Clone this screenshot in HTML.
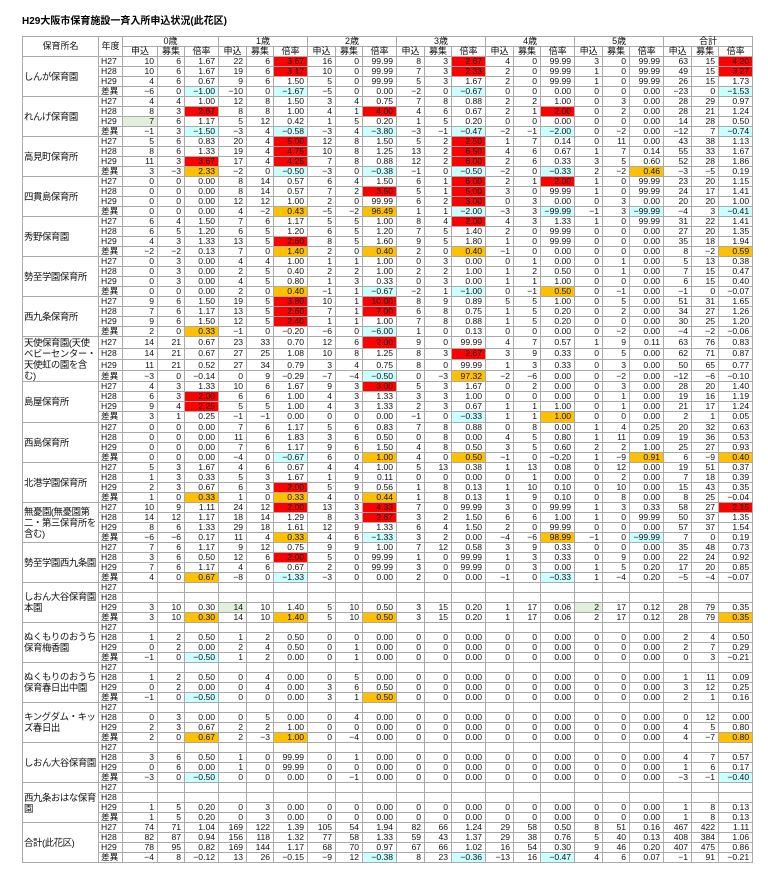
<!DOCTYPE html>
<html><head><meta charset="utf-8"><style>
body{margin:0;background:#fff;width:768px;height:888px;overflow:hidden;font-family:"Liberation Sans","Noto Sans CJK JP",sans-serif;}
.t{position:absolute;left:22px;top:12px;font-size:10px;font-weight:bold;}
table{position:absolute;left:22px;top:36px;border-collapse:collapse;table-layout:fixed;width:730px;border:1px solid #333;}
td{border:1px solid #aaa;height:9.02px;padding:0 3px 0 0;font-size:8.6px;line-height:9px;text-align:right;white-space:nowrap;overflow:hidden;color:#111;}
th{border:1px solid #aaa;height:9px;font-size:9px;font-weight:normal;line-height:9px;padding:0;color:#111;}
td.n{text-align:left;white-space:normal;font-size:9.4px;line-height:11px;padding:0 0 0 1px;vertical-align:middle;letter-spacing:-0.4px;}
td.y{text-align:left;padding-left:2px;}
tr.s td{border-top:1px solid #555;}
.r{background:#ff0000;}.o{background:#ffc000;}.c{background:#ccffff;}.g{background:#e2efda;}
</style></head><body>
<div class="t">H29大阪市保育施設一斉入所申込状況(此花区)</div>
<table>
<colgroup><col style="width:76px"><col style="width:24px"><col style="width:35px"><col style="width:27px"><col style="width:34px">
<col style="width:28px"><col style="width:27px"><col style="width:34px"><col style="width:28px"><col style="width:27px"><col style="width:34px">
<col style="width:28px"><col style="width:27px"><col style="width:34px"><col style="width:28px"><col style="width:27px"><col style="width:34px">
<col style="width:28px"><col style="width:27px"><col style="width:34px"><col style="width:28px"><col style="width:27px"><col style="width:34px"></colgroup>
<tr><th rowspan="2">保育所名</th><th rowspan="2">年度</th><th colspan="3">0歳</th><th colspan="3">1歳</th><th colspan="3">2歳</th><th colspan="3">3歳</th><th colspan="3">4歳</th><th colspan="3">5歳</th><th colspan="3">合計</th></tr>
<tr><th>申込</th><th>募集</th><th>倍率</th><th>申込</th><th>募集</th><th>倍率</th><th>申込</th><th>募集</th><th>倍率</th><th>申込</th><th>募集</th><th>倍率</th><th>申込</th><th>募集</th><th>倍率</th><th>申込</th><th>募集</th><th>倍率</th><th>申込</th><th>募集</th><th>倍率</th></tr>

<tr class="s"><td class="n" rowspan="4">しんが保育園</td><td class="y">H27</td><td>10</td><td>6</td><td>1.67</td><td>22</td><td>6</td><td class="r">3.67</td><td>16</td><td>0</td><td>99.99</td><td>8</td><td>3</td><td class="r">2.67</td><td>4</td><td>0</td><td>99.99</td><td>3</td><td>0</td><td>99.99</td><td>63</td><td>15</td><td class="r">4.20</td></tr>
<tr><td class="y">H28</td><td>10</td><td>6</td><td>1.67</td><td>19</td><td>6</td><td class="r">3.17</td><td>10</td><td>0</td><td>99.99</td><td>7</td><td>3</td><td class="r">2.33</td><td>2</td><td>0</td><td>99.99</td><td>1</td><td>0</td><td>99.99</td><td>49</td><td>15</td><td class="r">3.27</td></tr>
<tr><td class="y">H29</td><td>4</td><td>6</td><td>0.67</td><td>9</td><td>6</td><td>1.50</td><td>5</td><td>0</td><td>99.99</td><td>5</td><td>3</td><td>1.67</td><td>2</td><td>0</td><td>99.99</td><td>1</td><td>0</td><td>99.99</td><td>26</td><td>15</td><td>1.73</td></tr>
<tr><td class="y">差異</td><td>−6</td><td>0</td><td class="c">−1.00</td><td>−10</td><td>0</td><td class="c">−1.67</td><td>−5</td><td>0</td><td>0.00</td><td>−2</td><td>0</td><td class="c">−0.67</td><td>0</td><td>0</td><td>0.00</td><td>0</td><td>0</td><td>0.00</td><td>−23</td><td>0</td><td class="c">−1.53</td></tr>

<tr class="s"><td class="n" rowspan="4">れんげ保育園</td><td class="y">H27</td><td>4</td><td>4</td><td>1.00</td><td>12</td><td>8</td><td>1.50</td><td>3</td><td>4</td><td>0.75</td><td>7</td><td>8</td><td>0.88</td><td>2</td><td>2</td><td>1.00</td><td>0</td><td>3</td><td>0.00</td><td>28</td><td>29</td><td>0.97</td></tr>
<tr><td class="y">H28</td><td>8</td><td>3</td><td class="r">2.67</td><td>8</td><td>8</td><td>1.00</td><td>4</td><td>1</td><td class="r">4.00</td><td>4</td><td>6</td><td>0.67</td><td>2</td><td>1</td><td class="r">2.00</td><td>0</td><td>2</td><td>0.00</td><td>28</td><td>21</td><td>1.24</td></tr>
<tr><td class="y">H29</td><td class="g">7</td><td>6</td><td>1.17</td><td>5</td><td>12</td><td>0.42</td><td>1</td><td>5</td><td>0.20</td><td>1</td><td>5</td><td>0.20</td><td>0</td><td>0</td><td>0.00</td><td>0</td><td>0</td><td>0.00</td><td>14</td><td>28</td><td>0.50</td></tr>
<tr><td class="y">差異</td><td>−1</td><td>3</td><td class="c">−1.50</td><td>−3</td><td>4</td><td class="c">−0.58</td><td>−3</td><td>4</td><td class="c">−3.80</td><td>−3</td><td>−1</td><td class="c">−0.47</td><td>−2</td><td>−1</td><td class="c">−2.00</td><td>0</td><td>−2</td><td>0.00</td><td>−12</td><td>7</td><td class="c">−0.74</td></tr>

<tr class="s"><td class="n" rowspan="4">高見町保育所</td><td class="y">H27</td><td>5</td><td>6</td><td>0.83</td><td>20</td><td>4</td><td class="r">5.00</td><td>12</td><td>8</td><td>1.50</td><td>5</td><td>2</td><td class="r">2.50</td><td>1</td><td>7</td><td>0.14</td><td>0</td><td>11</td><td>0.00</td><td>43</td><td>38</td><td>1.13</td></tr>
<tr><td class="y">H28</td><td>8</td><td>6</td><td>1.33</td><td>19</td><td>4</td><td class="r">4.75</td><td>10</td><td>8</td><td>1.25</td><td>13</td><td>2</td><td class="r">6.50</td><td>4</td><td>6</td><td>0.67</td><td>1</td><td>7</td><td>0.14</td><td>55</td><td>33</td><td>1.67</td></tr>
<tr><td class="y">H29</td><td>11</td><td>3</td><td class="r">3.67</td><td>17</td><td>4</td><td class="r">4.25</td><td>7</td><td>8</td><td>0.88</td><td>12</td><td>2</td><td class="r">6.00</td><td>2</td><td>6</td><td>0.33</td><td>3</td><td>5</td><td>0.60</td><td>52</td><td>28</td><td>1.86</td></tr>
<tr><td class="y">差異</td><td>3</td><td>−3</td><td class="o">2.33</td><td>−2</td><td>0</td><td class="c">−0.50</td><td>−3</td><td>0</td><td class="c">−0.38</td><td>−1</td><td>0</td><td class="c">−0.50</td><td>−2</td><td>0</td><td class="c">−0.33</td><td>2</td><td>−2</td><td class="o">0.46</td><td>−3</td><td>−5</td><td>0.19</td></tr>

<tr class="s"><td class="n" rowspan="4">四貫島保育所</td><td class="y">H27</td><td>0</td><td>0</td><td>0.00</td><td>8</td><td>14</td><td>0.57</td><td>6</td><td>4</td><td>1.50</td><td>6</td><td>1</td><td class="r">6.00</td><td>2</td><td>1</td><td class="r">2.00</td><td>1</td><td>0</td><td>99.99</td><td>23</td><td>20</td><td>1.15</td></tr>
<tr><td class="y">H28</td><td>0</td><td>0</td><td>0.00</td><td>8</td><td>14</td><td>0.57</td><td>7</td><td>2</td><td class="r">3.50</td><td>5</td><td>1</td><td class="r">5.00</td><td>3</td><td>0</td><td>99.99</td><td>1</td><td>0</td><td>99.99</td><td>24</td><td>17</td><td>1.41</td></tr>
<tr><td class="y">H29</td><td>0</td><td>0</td><td>0.00</td><td>12</td><td>12</td><td>1.00</td><td>2</td><td>0</td><td>99.99</td><td>6</td><td>2</td><td class="r">3.00</td><td>0</td><td>3</td><td>0.00</td><td>0</td><td>3</td><td>0.00</td><td>20</td><td>20</td><td>1.00</td></tr>
<tr><td class="y">差異</td><td>0</td><td>0</td><td>0.00</td><td>4</td><td>−2</td><td class="o">0.43</td><td>−5</td><td>−2</td><td class="o">96.49</td><td>1</td><td>1</td><td class="c">−2.00</td><td>−3</td><td>3</td><td class="c">−99.99</td><td>−1</td><td>3</td><td class="c">−99.99</td><td>−4</td><td>3</td><td class="c">−0.41</td></tr>

<tr class="s"><td class="n" rowspan="4">秀野保育園</td><td class="y">H27</td><td>6</td><td>4</td><td>1.50</td><td>7</td><td>6</td><td>1.17</td><td>5</td><td>5</td><td>1.00</td><td>8</td><td>4</td><td class="r">2.00</td><td>4</td><td>3</td><td>1.33</td><td>1</td><td>0</td><td>99.99</td><td>31</td><td>22</td><td>1.41</td></tr>
<tr><td class="y">H28</td><td>6</td><td>5</td><td>1.20</td><td>6</td><td>5</td><td>1.20</td><td>6</td><td>5</td><td>1.20</td><td>7</td><td>5</td><td>1.40</td><td>2</td><td>0</td><td>99.99</td><td>0</td><td>0</td><td>0.00</td><td>27</td><td>20</td><td>1.35</td></tr>
<tr><td class="y">H29</td><td>4</td><td>3</td><td>1.33</td><td>13</td><td>5</td><td class="r">2.60</td><td>8</td><td>5</td><td>1.60</td><td>9</td><td>5</td><td>1.80</td><td>1</td><td>0</td><td>99.99</td><td>0</td><td>0</td><td>0.00</td><td>35</td><td>18</td><td>1.94</td></tr>
<tr><td class="y">差異</td><td>−2</td><td>−2</td><td>0.13</td><td>7</td><td>0</td><td class="o">1.40</td><td>2</td><td>0</td><td class="o">0.40</td><td>2</td><td>0</td><td class="o">0.40</td><td>−1</td><td>0</td><td>0.00</td><td>0</td><td>0</td><td>0.00</td><td>8</td><td>−2</td><td class="o">0.59</td></tr>

<tr class="s"><td class="n" rowspan="4">勢至学園保育所</td><td class="y">H27</td><td>0</td><td>3</td><td>0.00</td><td>4</td><td>4</td><td>1.00</td><td>1</td><td>1</td><td>1.00</td><td>0</td><td>3</td><td>0.00</td><td>0</td><td>1</td><td>0.00</td><td>0</td><td>1</td><td>0.00</td><td>5</td><td>13</td><td>0.38</td></tr>
<tr><td class="y">H28</td><td>0</td><td>3</td><td>0.00</td><td>2</td><td>5</td><td>0.40</td><td>2</td><td>2</td><td>1.00</td><td>2</td><td>2</td><td>1.00</td><td>1</td><td>2</td><td>0.50</td><td>0</td><td>1</td><td>0.00</td><td>7</td><td>15</td><td>0.47</td></tr>
<tr><td class="y">H29</td><td>0</td><td>3</td><td>0.00</td><td>4</td><td>5</td><td>0.80</td><td>1</td><td>3</td><td>0.33</td><td>0</td><td>3</td><td>0.00</td><td>1</td><td>1</td><td>1.00</td><td>0</td><td>0</td><td>0.00</td><td>6</td><td>15</td><td>0.40</td></tr>
<tr><td class="y">差異</td><td>0</td><td>0</td><td>0.00</td><td>2</td><td>0</td><td class="o">0.40</td><td>−1</td><td>1</td><td class="c">−0.67</td><td>−2</td><td>1</td><td class="c">−1.00</td><td>0</td><td>−1</td><td class="o">0.50</td><td>0</td><td>−1</td><td>0.00</td><td>−1</td><td>0</td><td>−0.07</td></tr>

<tr class="s"><td class="n" rowspan="4">西九条保育所</td><td class="y">H27</td><td>9</td><td>6</td><td>1.50</td><td>19</td><td>5</td><td class="r">3.80</td><td>10</td><td>1</td><td class="r">10.00</td><td>8</td><td>9</td><td>0.89</td><td>5</td><td>5</td><td>1.00</td><td>0</td><td>5</td><td>0.00</td><td>51</td><td>31</td><td>1.65</td></tr>
<tr><td class="y">H28</td><td>7</td><td>6</td><td>1.17</td><td>13</td><td>5</td><td class="r">2.60</td><td>7</td><td>1</td><td class="r">7.00</td><td>6</td><td>8</td><td>0.75</td><td>1</td><td>5</td><td>0.20</td><td>0</td><td>2</td><td>0.00</td><td>34</td><td>27</td><td>1.26</td></tr>
<tr><td class="y">H29</td><td>9</td><td>6</td><td>1.50</td><td>12</td><td>5</td><td class="r">2.40</td><td>1</td><td>1</td><td>1.00</td><td>7</td><td>8</td><td>0.88</td><td>1</td><td>5</td><td>0.20</td><td>0</td><td>0</td><td>0.00</td><td>30</td><td>25</td><td>1.20</td></tr>
<tr><td class="y">差異</td><td>2</td><td>0</td><td class="o">0.33</td><td>−1</td><td>0</td><td>−0.20</td><td>−6</td><td>0</td><td class="c">−6.00</td><td>1</td><td>0</td><td>0.13</td><td>0</td><td>0</td><td>0.00</td><td>0</td><td>−2</td><td>0.00</td><td>−4</td><td>−2</td><td>−0.06</td></tr>

<tr class="s"><td class="n" rowspan="4">天使保育園(天使ベビーセンター・天使虹の園を含む)</td><td class="y">H27</td><td>14</td><td>21</td><td>0.67</td><td>23</td><td>33</td><td>0.70</td><td>12</td><td>6</td><td class="r">2.00</td><td>9</td><td>0</td><td>99.99</td><td>4</td><td>7</td><td>0.57</td><td>1</td><td>9</td><td>0.11</td><td>63</td><td>76</td><td>0.83</td></tr>
<tr><td class="y">H28</td><td>14</td><td>21</td><td>0.67</td><td>27</td><td>25</td><td>1.08</td><td>10</td><td>8</td><td>1.25</td><td>8</td><td>3</td><td class="r">2.67</td><td>3</td><td>9</td><td>0.33</td><td>0</td><td>5</td><td>0.00</td><td>62</td><td>71</td><td>0.87</td></tr>
<tr><td class="y">H29</td><td>11</td><td>21</td><td>0.52</td><td>27</td><td>34</td><td>0.79</td><td>3</td><td>4</td><td>0.75</td><td>8</td><td>0</td><td>99.99</td><td>1</td><td>3</td><td>0.33</td><td>0</td><td>3</td><td>0.00</td><td>50</td><td>65</td><td>0.77</td></tr>
<tr><td class="y">差異</td><td>−3</td><td>0</td><td>−0.14</td><td>0</td><td>9</td><td>−0.29</td><td>−7</td><td>−4</td><td class="c">−0.50</td><td>0</td><td>−3</td><td class="o">97.32</td><td>−2</td><td>−6</td><td>0.00</td><td>0</td><td>−2</td><td>0.00</td><td>−12</td><td>−6</td><td>−0.10</td></tr>

<tr class="s"><td class="n" rowspan="4">島屋保育所</td><td class="y">H27</td><td>4</td><td>3</td><td>1.33</td><td>10</td><td>6</td><td>1.67</td><td>9</td><td>3</td><td class="r">3.00</td><td>5</td><td>3</td><td>1.67</td><td>0</td><td>2</td><td>0.00</td><td>0</td><td>3</td><td>0.00</td><td>28</td><td>20</td><td>1.40</td></tr>
<tr><td class="y">H28</td><td>6</td><td>3</td><td class="r">2.00</td><td>6</td><td>6</td><td>1.00</td><td>4</td><td>3</td><td>1.33</td><td>3</td><td>3</td><td>1.00</td><td>0</td><td>0</td><td>0.00</td><td>0</td><td>1</td><td>0.00</td><td>19</td><td>16</td><td>1.19</td></tr>
<tr><td class="y">H29</td><td>9</td><td>4</td><td class="r">2.25</td><td>5</td><td>5</td><td>1.00</td><td>4</td><td>3</td><td>1.33</td><td>2</td><td>3</td><td>0.67</td><td>1</td><td>1</td><td>1.00</td><td>0</td><td>1</td><td>0.00</td><td>21</td><td>17</td><td>1.24</td></tr>
<tr><td class="y">差異</td><td>3</td><td>1</td><td>0.25</td><td>−1</td><td>−1</td><td>0.00</td><td>0</td><td>0</td><td>0.00</td><td>−1</td><td>0</td><td class="c">−0.33</td><td>1</td><td>1</td><td class="o">1.00</td><td>0</td><td>0</td><td>0.00</td><td>2</td><td>1</td><td>0.05</td></tr>

<tr class="s"><td class="n" rowspan="4">西島保育所</td><td class="y">H27</td><td>0</td><td>0</td><td>0.00</td><td>7</td><td>6</td><td>1.17</td><td>5</td><td>6</td><td>0.83</td><td>7</td><td>8</td><td>0.88</td><td>0</td><td>8</td><td>0.00</td><td>1</td><td>4</td><td>0.25</td><td>20</td><td>32</td><td>0.63</td></tr>
<tr><td class="y">H28</td><td>0</td><td>0</td><td>0.00</td><td>11</td><td>6</td><td>1.83</td><td>3</td><td>6</td><td>0.50</td><td>0</td><td>8</td><td>0.00</td><td>4</td><td>5</td><td>0.80</td><td>1</td><td>11</td><td>0.09</td><td>19</td><td>36</td><td>0.53</td></tr>
<tr><td class="y">H29</td><td>0</td><td>0</td><td>0.00</td><td>7</td><td>6</td><td>1.17</td><td>9</td><td>6</td><td>1.50</td><td>4</td><td>8</td><td>0.50</td><td>3</td><td>5</td><td>0.60</td><td>2</td><td>2</td><td>1.00</td><td>25</td><td>27</td><td>0.93</td></tr>
<tr><td class="y">差異</td><td>0</td><td>0</td><td>0.00</td><td>−4</td><td>0</td><td class="c">−0.67</td><td>6</td><td>0</td><td class="o">1.00</td><td>4</td><td>0</td><td class="o">0.50</td><td>−1</td><td>0</td><td>−0.20</td><td>1</td><td>−9</td><td class="o">0.91</td><td>6</td><td>−9</td><td class="o">0.40</td></tr>

<tr class="s"><td class="n" rowspan="4">北港学園保育所</td><td class="y">H27</td><td>5</td><td>3</td><td>1.67</td><td>4</td><td>6</td><td>0.67</td><td>4</td><td>4</td><td>1.00</td><td>5</td><td>13</td><td>0.38</td><td>1</td><td>13</td><td>0.08</td><td>0</td><td>12</td><td>0.00</td><td>19</td><td>51</td><td>0.37</td></tr>
<tr><td class="y">H28</td><td>1</td><td>3</td><td>0.33</td><td>5</td><td>3</td><td>1.67</td><td>1</td><td>9</td><td>0.11</td><td>0</td><td>0</td><td>0.00</td><td>0</td><td>1</td><td>0.00</td><td>0</td><td>2</td><td>0.00</td><td>7</td><td>18</td><td>0.39</td></tr>
<tr><td class="y">H29</td><td>2</td><td>3</td><td>0.67</td><td>6</td><td>3</td><td class="r">2.00</td><td>5</td><td>9</td><td>0.56</td><td>1</td><td>8</td><td>0.13</td><td>1</td><td>10</td><td>0.10</td><td>0</td><td>10</td><td>0.00</td><td>15</td><td>43</td><td>0.35</td></tr>
<tr><td class="y">差異</td><td>1</td><td>0</td><td class="o">0.33</td><td>1</td><td>0</td><td class="o">0.33</td><td>4</td><td>0</td><td class="o">0.44</td><td>1</td><td>8</td><td>0.13</td><td>1</td><td>9</td><td>0.10</td><td>0</td><td>8</td><td>0.00</td><td>8</td><td>25</td><td>−0.04</td></tr>

<tr class="s"><td class="n" rowspan="4">無憂園(無憂園第二・第三保育所を含む)</td><td class="y">H27</td><td>10</td><td>9</td><td>1.11</td><td>24</td><td>12</td><td class="r">2.00</td><td>13</td><td>3</td><td class="r">4.33</td><td>7</td><td>0</td><td>99.99</td><td>3</td><td>0</td><td>99.99</td><td>1</td><td>3</td><td>0.33</td><td>58</td><td>27</td><td class="r">2.15</td></tr>
<tr><td class="y">H28</td><td>14</td><td>12</td><td>1.17</td><td>18</td><td>14</td><td>1.29</td><td>8</td><td>3</td><td class="r">2.67</td><td>3</td><td>2</td><td>1.50</td><td>6</td><td>6</td><td>1.00</td><td>1</td><td>0</td><td>99.99</td><td>50</td><td>37</td><td>1.35</td></tr>
<tr><td class="y">H29</td><td>8</td><td>6</td><td>1.33</td><td>29</td><td>18</td><td>1.61</td><td>12</td><td>9</td><td>1.33</td><td>6</td><td>4</td><td>1.50</td><td>2</td><td>0</td><td>99.99</td><td>0</td><td>0</td><td>0.00</td><td>57</td><td>37</td><td>1.54</td></tr>
<tr><td class="y">差異</td><td>−6</td><td>−6</td><td>0.17</td><td>11</td><td>4</td><td class="o">0.33</td><td>4</td><td>6</td><td class="c">−1.33</td><td>3</td><td>2</td><td>0.00</td><td>−4</td><td>−6</td><td class="o">98.99</td><td>−1</td><td>0</td><td class="c">−99.99</td><td>7</td><td>0</td><td>0.19</td></tr>

<tr class="s"><td class="n" rowspan="4">勢至学園西九条園</td><td class="y">H27</td><td>7</td><td>6</td><td>1.17</td><td>9</td><td>12</td><td>0.75</td><td>9</td><td>9</td><td>1.00</td><td>7</td><td>12</td><td>0.58</td><td>3</td><td>9</td><td>0.33</td><td>0</td><td>0</td><td>0.00</td><td>35</td><td>48</td><td>0.73</td></tr>
<tr><td class="y">H28</td><td>3</td><td>6</td><td>0.50</td><td>12</td><td>6</td><td class="r">2.00</td><td>5</td><td>0</td><td>99.99</td><td>1</td><td>0</td><td>99.99</td><td>1</td><td>3</td><td>0.33</td><td>0</td><td>9</td><td>0.00</td><td>22</td><td>24</td><td>0.92</td></tr>
<tr><td class="y">H29</td><td>7</td><td>6</td><td>1.17</td><td>4</td><td>6</td><td>0.67</td><td>2</td><td>0</td><td>99.99</td><td>3</td><td>0</td><td>99.99</td><td>0</td><td>3</td><td>0.00</td><td>1</td><td>5</td><td>0.20</td><td>17</td><td>20</td><td>0.85</td></tr>
<tr><td class="y">差異</td><td>4</td><td>0</td><td class="o">0.67</td><td>−8</td><td>0</td><td class="c">−1.33</td><td>−3</td><td>0</td><td>0.00</td><td>2</td><td>0</td><td>0.00</td><td>−1</td><td>0</td><td class="c">−0.33</td><td>1</td><td>−4</td><td>0.20</td><td>−5</td><td>−4</td><td>−0.07</td></tr>

<tr class="s"><td class="n" rowspan="4">しおん大谷保育園本園</td><td class="y">H27</td><td></td><td></td><td></td><td></td><td></td><td></td><td></td><td></td><td></td><td></td><td></td><td></td><td></td><td></td><td></td><td></td><td></td><td></td><td></td><td></td><td></td></tr>
<tr><td class="y">H28</td><td></td><td></td><td></td><td></td><td></td><td></td><td></td><td></td><td></td><td></td><td></td><td></td><td></td><td></td><td></td><td></td><td></td><td></td><td></td><td></td><td></td></tr>
<tr><td class="y">H29</td><td>3</td><td>10</td><td>0.30</td><td class="g">14</td><td>10</td><td>1.40</td><td>5</td><td>10</td><td>0.50</td><td>3</td><td>15</td><td>0.20</td><td>1</td><td>17</td><td>0.06</td><td class="g">2</td><td>17</td><td>0.12</td><td>28</td><td>79</td><td>0.35</td></tr>
<tr><td class="y">差異</td><td>3</td><td>10</td><td class="o">0.30</td><td>14</td><td>10</td><td class="o">1.40</td><td>5</td><td>10</td><td class="o">0.50</td><td>3</td><td>15</td><td>0.20</td><td>1</td><td>17</td><td>0.06</td><td>2</td><td>17</td><td>0.12</td><td>28</td><td>79</td><td class="o">0.35</td></tr>

<tr class="s"><td class="n" rowspan="4">ぬくもりのおうち保育梅香園</td><td class="y">H27</td><td></td><td></td><td></td><td></td><td></td><td></td><td></td><td></td><td></td><td></td><td></td><td></td><td></td><td></td><td></td><td></td><td></td><td></td><td></td><td></td><td></td></tr>
<tr><td class="y">H28</td><td>1</td><td>2</td><td>0.50</td><td>1</td><td>2</td><td>0.50</td><td>0</td><td>0</td><td>0.00</td><td>0</td><td>0</td><td>0.00</td><td>0</td><td>0</td><td>0.00</td><td>0</td><td>0</td><td>0.00</td><td>2</td><td>4</td><td>0.50</td></tr>
<tr><td class="y">H29</td><td>0</td><td>2</td><td>0.00</td><td>2</td><td>4</td><td>0.50</td><td>0</td><td>1</td><td>0.00</td><td>0</td><td>0</td><td>0.00</td><td>0</td><td>0</td><td>0.00</td><td>0</td><td>0</td><td>0.00</td><td>2</td><td>7</td><td>0.29</td></tr>
<tr><td class="y">差異</td><td>−1</td><td>0</td><td class="c">−0.50</td><td>1</td><td>2</td><td>0.00</td><td>0</td><td>1</td><td>0.00</td><td>0</td><td>0</td><td>0.00</td><td>0</td><td>0</td><td>0.00</td><td>0</td><td>0</td><td>0.00</td><td>0</td><td>3</td><td>−0.21</td></tr>

<tr class="s"><td class="n" rowspan="4">ぬくもりのおうち保育春日出中園</td><td class="y">H27</td><td></td><td></td><td></td><td></td><td></td><td></td><td></td><td></td><td></td><td></td><td></td><td></td><td></td><td></td><td></td><td></td><td></td><td></td><td></td><td></td><td></td></tr>
<tr><td class="y">H28</td><td>1</td><td>2</td><td>0.50</td><td>0</td><td>4</td><td>0.00</td><td>0</td><td>5</td><td>0.00</td><td>0</td><td>0</td><td>0.00</td><td>0</td><td>0</td><td>0.00</td><td>0</td><td>0</td><td>0.00</td><td>1</td><td>11</td><td>0.09</td></tr>
<tr><td class="y">H29</td><td>0</td><td>2</td><td>0.00</td><td>0</td><td>4</td><td>0.00</td><td>3</td><td>6</td><td>0.50</td><td>0</td><td>0</td><td>0.00</td><td>0</td><td>0</td><td>0.00</td><td>0</td><td>0</td><td>0.00</td><td>3</td><td>12</td><td>0.25</td></tr>
<tr><td class="y">差異</td><td>−1</td><td>0</td><td class="c">−0.50</td><td>0</td><td>0</td><td>0.00</td><td>3</td><td>1</td><td class="o">0.50</td><td>0</td><td>0</td><td>0.00</td><td>0</td><td>0</td><td>0.00</td><td>0</td><td>0</td><td>0.00</td><td>2</td><td>1</td><td>0.16</td></tr>

<tr class="s"><td class="n" rowspan="4">キングダム・キッズ春日出</td><td class="y">H27</td><td></td><td></td><td></td><td></td><td></td><td></td><td></td><td></td><td></td><td></td><td></td><td></td><td></td><td></td><td></td><td></td><td></td><td></td><td></td><td></td><td></td></tr>
<tr><td class="y">H28</td><td>0</td><td>3</td><td>0.00</td><td>0</td><td>5</td><td>0.00</td><td>0</td><td>4</td><td>0.00</td><td>0</td><td>0</td><td>0.00</td><td>0</td><td>0</td><td>0.00</td><td>0</td><td>0</td><td>0.00</td><td>0</td><td>12</td><td>0.00</td></tr>
<tr><td class="y">H29</td><td>2</td><td>3</td><td>0.67</td><td>2</td><td>2</td><td>1.00</td><td>0</td><td>0</td><td>0.00</td><td>0</td><td>0</td><td>0.00</td><td>0</td><td>0</td><td>0.00</td><td>0</td><td>0</td><td>0.00</td><td>4</td><td>5</td><td>0.80</td></tr>
<tr><td class="y">差異</td><td>2</td><td>0</td><td class="o">0.67</td><td>2</td><td>−3</td><td class="o">1.00</td><td>0</td><td>−4</td><td>0.00</td><td>0</td><td>0</td><td>0.00</td><td>0</td><td>0</td><td>0.00</td><td>0</td><td>0</td><td>0.00</td><td>4</td><td>−7</td><td class="o">0.80</td></tr>

<tr class="s"><td class="n" rowspan="4">しおん大谷保育園</td><td class="y">H27</td><td></td><td></td><td></td><td></td><td></td><td></td><td></td><td></td><td></td><td></td><td></td><td></td><td></td><td></td><td></td><td></td><td></td><td></td><td></td><td></td><td></td></tr>
<tr><td class="y">H28</td><td>3</td><td>6</td><td>0.50</td><td>1</td><td>0</td><td>99.99</td><td>0</td><td>1</td><td>0.00</td><td>0</td><td>0</td><td>0.00</td><td>0</td><td>0</td><td>0.00</td><td>0</td><td>0</td><td>0.00</td><td>4</td><td>7</td><td>0.57</td></tr>
<tr><td class="y">H29</td><td>0</td><td>6</td><td>0.00</td><td>1</td><td>0</td><td>99.99</td><td>0</td><td>0</td><td>0.00</td><td>0</td><td>0</td><td>0.00</td><td>0</td><td>0</td><td>0.00</td><td>0</td><td>0</td><td>0.00</td><td>1</td><td>6</td><td>0.17</td></tr>
<tr><td class="y">差異</td><td>−3</td><td>0</td><td class="c">−0.50</td><td>0</td><td>0</td><td>0.00</td><td>0</td><td>−1</td><td>0.00</td><td>0</td><td>0</td><td>0.00</td><td>0</td><td>0</td><td>0.00</td><td>0</td><td>0</td><td>0.00</td><td>−3</td><td>−1</td><td class="c">−0.40</td></tr>

<tr class="s"><td class="n" rowspan="4">西九条おはな保育園</td><td class="y">H27</td><td></td><td></td><td></td><td></td><td></td><td></td><td></td><td></td><td></td><td></td><td></td><td></td><td></td><td></td><td></td><td></td><td></td><td></td><td></td><td></td><td></td></tr>
<tr><td class="y">H28</td><td></td><td></td><td></td><td></td><td></td><td></td><td></td><td></td><td></td><td></td><td></td><td></td><td></td><td></td><td></td><td></td><td></td><td></td><td></td><td></td><td></td></tr>
<tr><td class="y">H29</td><td>1</td><td>5</td><td>0.20</td><td>0</td><td>3</td><td>0.00</td><td>0</td><td>0</td><td>0.00</td><td>0</td><td>0</td><td>0.00</td><td>0</td><td>0</td><td>0.00</td><td>0</td><td>0</td><td>0.00</td><td>1</td><td>8</td><td>0.13</td></tr>
<tr><td class="y">差異</td><td>1</td><td>5</td><td>0.20</td><td>0</td><td>3</td><td>0.00</td><td>0</td><td>0</td><td>0.00</td><td>0</td><td>0</td><td>0.00</td><td>0</td><td>0</td><td>0.00</td><td>0</td><td>0</td><td>0.00</td><td>1</td><td>8</td><td>0.13</td></tr>

<tr class="s"><td class="n" rowspan="4">合計(此花区)</td><td class="y">H27</td><td>74</td><td>71</td><td>1.04</td><td>169</td><td>122</td><td>1.39</td><td>105</td><td>54</td><td>1.94</td><td>82</td><td>66</td><td>1.24</td><td>29</td><td>58</td><td>0.50</td><td>8</td><td>51</td><td>0.16</td><td>467</td><td>422</td><td>1.11</td></tr>
<tr><td class="y">H28</td><td>82</td><td>87</td><td>0.94</td><td>156</td><td>118</td><td>1.32</td><td>77</td><td>58</td><td>1.33</td><td>59</td><td>43</td><td>1.37</td><td>29</td><td>38</td><td>0.76</td><td>5</td><td>40</td><td>0.13</td><td>408</td><td>384</td><td>1.06</td></tr>
<tr><td class="y">H29</td><td>78</td><td>95</td><td>0.82</td><td>169</td><td>144</td><td>1.17</td><td>68</td><td>70</td><td>0.97</td><td>67</td><td>66</td><td>1.02</td><td>16</td><td>54</td><td>0.30</td><td>9</td><td>46</td><td>0.20</td><td>407</td><td>475</td><td>0.86</td></tr>
<tr><td class="y">差異</td><td>−4</td><td>8</td><td>−0.12</td><td>13</td><td>26</td><td>−0.15</td><td>−9</td><td>12</td><td class="c">−0.38</td><td>8</td><td>23</td><td class="c">−0.36</td><td>−13</td><td>16</td><td class="c">−0.47</td><td>4</td><td>6</td><td>0.07</td><td>−1</td><td>91</td><td>−0.21</td></tr>
</table>
</body></html>
